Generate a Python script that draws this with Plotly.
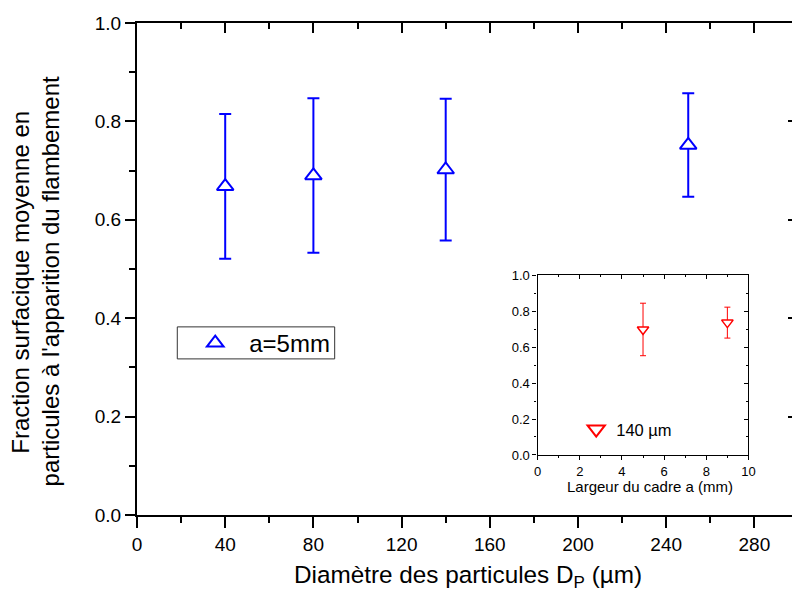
import plotly.graph_objects as go

# ---- data ----
diam_um = [40, 80, 140, 250]
frac_main = [0.668, 0.690, 0.702, 0.752]
err_main = [0.147, 0.157, 0.144, 0.105]

frame_mm = [5, 9]
frac_inset = [0.698, 0.736]
err_inset = [0.146, 0.086]

main_label = "a=5mm"
inset_label = "140 µm"

# page body has an 8px margin; keep figure inside the 800px window width
OFF = 8
W, H = 792, 592
L, R, T, B = 129.3, 0, 15.3, 85
PW, PH = W - L - R, H - T - B
XSCALE = 2.2275                     # px per µm in the reference
XMAX = PW / XSCALE

def px_x(p):  # page pixel -> paper fraction
    return (p - OFF - L) / PW

def px_y(p):
    return (H - B - (p - OFF)) / PH

FONT = "Arial, Liberation Sans, sans-serif"
BLUE = "#0000FF"
RED = "#FF0000"

fig = go.Figure()

fig.add_trace(go.Scatter(
    x=diam_um, y=frac_main, mode="markers", name=main_label,
    marker=dict(symbol="triangle-up", size=14.5, color="white",
                line=dict(color=BLUE, width=2)),
    error_y=dict(type="data", array=err_main, visible=True,
                 color=BLUE, thickness=2, width=6),
    xaxis="x", yaxis="y", legend="legend", showlegend=True,
))

fig.add_trace(go.Scatter(
    x=frame_mm, y=frac_inset, mode="markers", name=inset_label,
    marker=dict(symbol="triangle-down", size=10, color="white",
                line=dict(color=RED, width=1.5)),
    error_y=dict(type="data", array=err_inset, visible=True,
                 color=RED, thickness=1, width=3),
    xaxis="x2", yaxis="y2", showlegend=False,
))
fig.add_trace(go.Scatter(
    x=[None], y=[None], mode="markers", name=inset_label,
    marker=dict(symbol="triangle-down", size=15, color="white",
                line=dict(color=RED, width=2)),
    xaxis="x2", yaxis="y2", legend="legend2", showlegend=True,
))

fig.add_trace(go.Scatter(x=[None], y=[None], xaxis="x3", yaxis="y3",
                         showlegend=False, hoverinfo="skip"))
fig.add_trace(go.Scatter(x=[None], y=[None], xaxis="x4", yaxis="y4",
                         showlegend=False, hoverinfo="skip"))

main_x = dict(range=[0, XMAX], tick0=0, dtick=40, showgrid=False, zeroline=False,
              showline=True, linecolor="black", linewidth=2,
              tickcolor="black", tickwidth=2)
main_y = dict(range=[0, 1], tick0=0, dtick=0.2, showgrid=False, zeroline=False,
              showline=True, linecolor="black", linewidth=2,
              tickcolor="black", tickwidth=2)

ix0, ix1 = px_x(542), px_x(755)
iy0, iy1 = px_y(455), px_y(275.3)

inset_x = dict(range=[0, 10], tick0=0, dtick=2, showgrid=False, zeroline=False,
               showline=True, linecolor="black", linewidth=1.3,
               tickcolor="black", tickwidth=1.2, domain=[ix0, ix1])
inset_y = dict(range=[0, 1], tick0=0, dtick=0.2, showgrid=False, zeroline=False,
               showline=True, linecolor="black", linewidth=1.3,
               tickcolor="black", tickwidth=1.2, domain=[iy0, iy1])

fig.update_layout(
    width=W, height=H,
    margin=dict(l=L, r=R, t=T, b=B, pad=0),
    paper_bgcolor="white", plot_bgcolor="white",
    font=dict(family=FONT, color="black"),
    xaxis=dict(**main_x, domain=[0, 1], anchor="y", ticks="outside", ticklen=11,
               minor=dict(dtick=20, ticks="outside", ticklen=6, tickcolor="black", tickwidth=2),
               tickfont=dict(size=19)),
    yaxis=dict(**main_y, domain=[0, 1], anchor="x", ticks="outside", ticklen=10,
               tickformat=".1f",
               minor=dict(dtick=0.1, ticks="outside", ticklen=6, tickcolor="black", tickwidth=2),
               tickfont=dict(size=19)),
    xaxis3=dict(**main_x, overlaying="x", anchor="y", side="top", ticks="inside", ticklen=10,
                showticklabels=False,
                minor=dict(dtick=20, ticks="inside", ticklen=6, tickcolor="black", tickwidth=2)),
    yaxis3=dict(range=[0, 1], tick0=0, dtick=0.2, showgrid=False, zeroline=False,
                showline=False, overlaying="y", anchor="x", side="right",
                ticks="inside", ticklen=5, tickcolor="black", tickwidth=2,
                showticklabels=False,
                minor=dict(dtick=0.1, ticks="inside", ticklen=1, tickcolor="black", tickwidth=2)),
    xaxis2=dict(**inset_x, anchor="y2", ticks="outside", ticklen=4,
                minor=dict(dtick=1, ticks="outside", ticklen=2, tickcolor="black", tickwidth=1),
                tickfont=dict(size=13)),
    yaxis2=dict(**inset_y, anchor="x2", ticks="outside", ticklen=4, tickformat=".1f",
                minor=dict(dtick=0.1, ticks="outside", ticklen=2, tickcolor="black", tickwidth=1),
                tickfont=dict(size=13)),
    xaxis4=dict(**inset_x, overlaying="x2", anchor="y2", side="top", ticks="inside", ticklen=4,
                showticklabels=False,
                minor=dict(dtick=1, ticks="inside", ticklen=2, tickcolor="black", tickwidth=1)),
    yaxis4=dict(**inset_y, overlaying="y2", anchor="x2", side="right", ticks="inside", ticklen=4,
                showticklabels=False,
                minor=dict(dtick=0.1, ticks="inside", ticklen=2, tickcolor="black", tickwidth=1)),
    legend=dict(x=px_x(182), y=px_y(321), xanchor="left", yanchor="top",
                bgcolor="rgba(0,0,0,0)", borderwidth=0,
                font=dict(size=24), itemwidth=58),
    legend2=dict(x=px_x(581), y=px_y(412), xanchor="left", yanchor="top",
                 bgcolor="rgba(0,0,0,0)", borderwidth=0,
                 font=dict(size=16.5)),
    showlegend=True,
)

# legend frame
fig.add_shape(type="rect", xref="paper", yref="paper",
              x0=px_x(178), x1=px_x(337), y0=px_y(359), y1=px_y(327),
              line=dict(color="#333333", width=1), fillcolor="rgba(0,0,0,0)", layer="below")

fig.add_annotation(
    text="Diamètre des particules D<sub>P</sub> (µm)",
    xref="paper", yref="paper", x=px_x(471.5), y=px_y(576),
    xanchor="center", yanchor="middle", showarrow=False,
    font=dict(size=24.3),
)
fig.add_annotation(
    text="Fraction surfacique moyenne en",
    xref="paper", yref="paper", x=px_x(20), y=px_y(282),
    xanchor="center", yanchor="middle", textangle=-90, showarrow=False,
    font=dict(size=24),
)
fig.add_annotation(
    text="particules à l'apparition du flambement",
    xref="paper", yref="paper", x=px_x(50), y=px_y(282),
    xanchor="center", yanchor="middle", textangle=-90, showarrow=False,
    font=dict(size=24),
)
fig.add_annotation(
    text="Largeur du cadre a (mm)",
    xref="paper", yref="paper", x=px_x(656), y=px_y(487),
    xanchor="center", yanchor="middle", showarrow=False,
    font=dict(size=15),
)

fig.write_html("out.html")
